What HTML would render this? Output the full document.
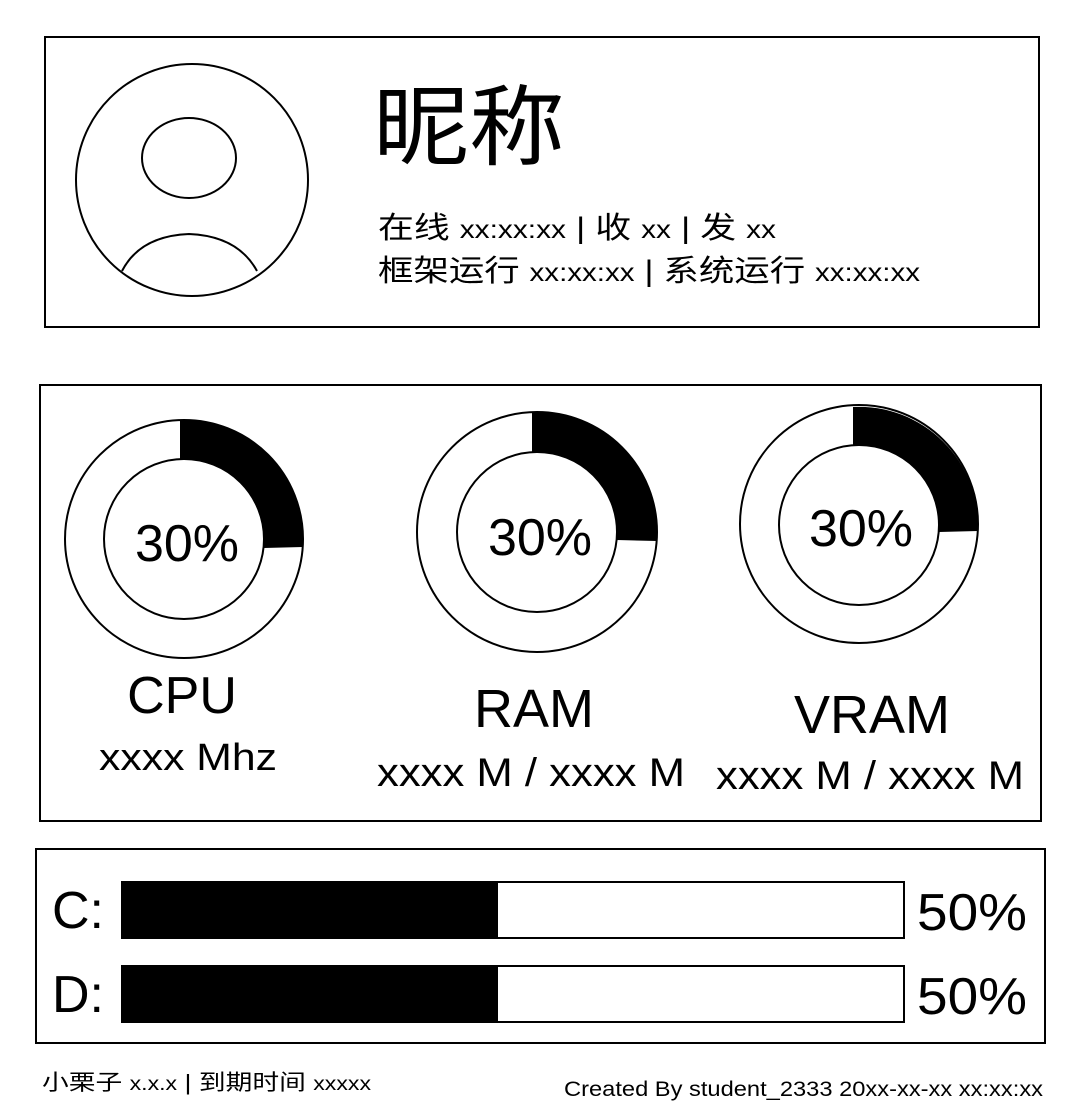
<!DOCTYPE html>
<html><head><meta charset="utf-8"><style>
html,body{margin:0;padding:0;background:#fff;}
svg{display:block;}
text{font-family:"Liberation Sans","Noto Sans CJK SC",sans-serif;fill:#000;}
</style></head><body>
<svg width="1080" height="1119" viewBox="0 0 1080 1119" xmlns="http://www.w3.org/2000/svg">
<rect x="0" y="0" width="1080" height="1119" fill="#fff"/>
<!-- Box 1 -->
<rect x="45" y="37" width="994" height="290" fill="none" stroke="#000" stroke-width="2"/>
<circle cx="192" cy="180" r="116" fill="none" stroke="#000" stroke-width="2"/>
<ellipse cx="189" cy="158" rx="47" ry="40" fill="none" stroke="#000" stroke-width="2"/>
<path d="M122,271 Q140,236 189,234 Q238,236 257,271" fill="none" stroke="#000" stroke-width="2"/>
<text x="373" y="158" font-size="88" textLength="192" lengthAdjust="spacingAndGlyphs">昵称</text>
<text x="378" y="238" font-size="30" textLength="398" lengthAdjust="spacingAndGlyphs">在线 <tspan font-size="25">xx:xx:xx</tspan> | 收 <tspan font-size="25">xx</tspan> | 发 <tspan font-size="25">xx</tspan></text>
<text x="378" y="281" font-size="30" textLength="542" lengthAdjust="spacingAndGlyphs">框架运行 <tspan font-size="25">xx:xx:xx</tspan> | 系统运行 <tspan font-size="25">xx:xx:xx</tspan></text>
<!-- Box 2 -->
<rect x="40" y="385" width="1001" height="436" fill="none" stroke="#000" stroke-width="2"/>
<!-- CPU -->
<circle cx="184" cy="539" r="119" fill="none" stroke="#000" stroke-width="2"/>
<path d="M180,420 A119,119 0 0 1 302.9,547 L263.9,548 A80,80 0 0 0 180,459 Z" fill="#000"/>
<circle cx="184" cy="539" r="80" fill="#fff" stroke="#000" stroke-width="2"/>
<text x="187" y="561" font-size="52" text-anchor="middle">30%</text>
<text x="182" y="713" font-size="52" text-anchor="middle">CPU</text>
<text x="188" y="770" font-size="38" text-anchor="middle" textLength="178" lengthAdjust="spacingAndGlyphs">xxxx Mhz</text>
<!-- RAM -->
<circle cx="537" cy="532" r="120" fill="none" stroke="#000" stroke-width="2"/>
<path d="M532,412 A120,120 0 0 1 657,541 L617,540 A80,80 0 0 0 532,452 Z" fill="#000"/>
<circle cx="537" cy="532" r="80" fill="#fff" stroke="#000" stroke-width="2"/>
<text x="540" y="555" font-size="52" text-anchor="middle">30%</text>
<text x="534" y="727" font-size="54" text-anchor="middle">RAM</text>
<text x="531" y="786" font-size="40" text-anchor="middle" textLength="308" lengthAdjust="spacingAndGlyphs">xxxx M / xxxx M</text>
<!-- VRAM -->
<circle cx="859" cy="524" r="119" fill="none" stroke="#000" stroke-width="2"/>
<path d="M853,407 A119,119 0 0 1 978,531 L939,532 A80,80 0 0 0 853,445 Z" fill="#000"/>
<circle cx="859" cy="525" r="80" fill="#fff" stroke="#000" stroke-width="2"/>
<text x="861" y="546" font-size="52" text-anchor="middle">30%</text>
<text x="872" y="733" font-size="54" text-anchor="middle">VRAM</text>
<text x="870" y="789" font-size="40" text-anchor="middle" textLength="308" lengthAdjust="spacingAndGlyphs">xxxx M / xxxx M</text>
<!-- Box 3 -->
<rect x="36" y="849" width="1009" height="194" fill="none" stroke="#000" stroke-width="2"/>
<text x="52" y="928" font-size="52">C:</text>
<rect x="122" y="882" width="782" height="56" fill="#fff" stroke="#000" stroke-width="2"/>
<rect x="122" y="882" width="376" height="56" fill="#000"/>
<text x="917" y="930" font-size="52" textLength="110" lengthAdjust="spacingAndGlyphs">50%</text>
<text x="52" y="1012" font-size="52">D:</text>
<rect x="122" y="966" width="782" height="56" fill="#fff" stroke="#000" stroke-width="2"/>
<rect x="122" y="966" width="376" height="56" fill="#000"/>
<text x="917" y="1014" font-size="52" textLength="110" lengthAdjust="spacingAndGlyphs">50%</text>
<!-- Footer -->
<text x="42" y="1090" font-size="22" textLength="329" lengthAdjust="spacingAndGlyphs">小栗子 <tspan font-size="19">x.x.x</tspan> | 到期时间 <tspan font-size="19">xxxxx</tspan></text>
<text x="564" y="1096" font-size="21" textLength="479" lengthAdjust="spacingAndGlyphs">Created By student_2333 20xx-xx-xx xx:xx:xx</text>
</svg>
</body></html>
